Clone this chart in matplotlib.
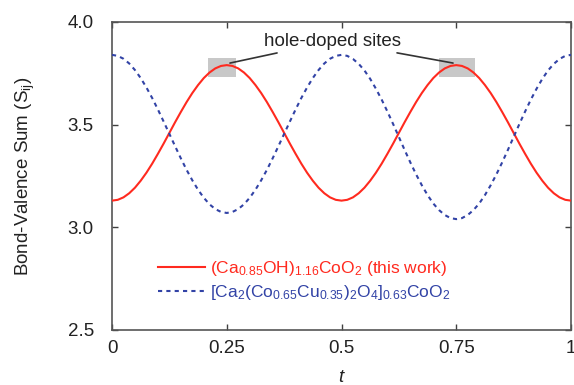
import matplotlib
matplotlib.use("Agg")
import matplotlib.pyplot as plt
from matplotlib.patches import Rectangle

plt.rcParams['font.family'] = ['Liberation Sans', 'DejaVu Sans']
plt.rcParams['mathtext.fontset'] = 'custom'
plt.rcParams['mathtext.rm'] = 'Liberation Sans'
plt.rcParams['mathtext.it'] = 'Liberation Sans:italic'

t = [i / 80 for i in range(81)]  # sample positions along t (0 .. 1)
red = [3.13, 3.134, 3.146, 3.166, 3.193, 3.227, 3.266, 3.310, 3.358, 3.408,
       3.46, 3.512, 3.562, 3.610, 3.654, 3.693, 3.727, 3.754, 3.774, 3.786,
       3.79, 3.786, 3.774, 3.754, 3.727, 3.693, 3.654, 3.610, 3.562, 3.512,
       3.46, 3.408, 3.358, 3.310, 3.266, 3.227, 3.193, 3.166, 3.146, 3.134,
       3.13, 3.134, 3.146, 3.166, 3.193, 3.227, 3.266, 3.310, 3.358, 3.408,
       3.46, 3.512, 3.562, 3.610, 3.654, 3.693, 3.727, 3.754, 3.774, 3.786,
       3.79, 3.786, 3.774, 3.754, 3.727, 3.693, 3.654, 3.610, 3.562, 3.512,
       3.46, 3.408, 3.358, 3.310, 3.266, 3.227, 3.193, 3.166, 3.146, 3.134,
       3.13]
blue = [3.84, 3.835, 3.821, 3.798, 3.766, 3.727, 3.681, 3.630, 3.574, 3.515,
        3.455, 3.395, 3.336, 3.280, 3.229, 3.183, 3.144, 3.112, 3.089, 3.075,
        3.07, 3.075, 3.089, 3.112, 3.144, 3.183, 3.229, 3.280, 3.336, 3.395,
        3.455, 3.515, 3.574, 3.630, 3.681, 3.727, 3.766, 3.798, 3.821, 3.835,
        3.84, 3.835, 3.820, 3.796, 3.764, 3.723, 3.675, 3.622, 3.564, 3.503,
        3.44, 3.377, 3.316, 3.258, 3.205, 3.157, 3.116, 3.084, 3.060, 3.045,
        3.04, 3.045, 3.060, 3.084, 3.116, 3.157, 3.205, 3.258, 3.316, 3.377,
        3.44, 3.503, 3.564, 3.622, 3.675, 3.723, 3.764, 3.796, 3.820, 3.835,
        3.84]
red_label = r'(Ca$_{0.85}$OH)$_{1.16}$CoO$_2$ (this work)'
blue_label = r'[Ca$_2$(Co$_{0.65}$Cu$_{0.35}$)$_2$O$_4$]$_{0.63}$CoO$_2$'
xticks = [0, 0.25, 0.5, 0.75, 1]
xticklabels = ['0', '0.25', '0.5', '0.75', '1']
yticks = [2.5, 3.0, 3.5, 4.0]
yticklabels = ['2.5', '3.0', '3.5', '4.0']
boxes = [(0.21, 0.27), (0.712, 0.791)]
box_y = (3.73, 3.825)

red_c = '#ff2a1f'
blue_c = '#3243a6'
fs = 13.5

fig = plt.figure(figsize=(5.74, 3.85), dpi=100)
ax = fig.add_axes([112/574, 1-330/385, (571-112)/574, (330-22)/385])

for x0, x1 in boxes:
    ax.add_patch(Rectangle((x0, box_y[0]), x1-x0, box_y[1]-box_y[0],
                           facecolor='#c8c8c8', edgecolor='none', zorder=1))

ax.plot(t, red, color=red_c, lw=1.5, label=red_label, zorder=3)
ax.plot(t, blue, color=blue_c, lw=1.5, ls=(0, (2, 2)), label=blue_label, zorder=3)

ax.set_xlim(0, 1)
ax.set_ylim(2.5, 4.0)
ax.set_xticks(xticks)
ax.set_xticklabels(xticklabels)
ax.set_yticks(yticks)
ax.set_yticklabels(yticklabels)
ax.tick_params(axis='y', pad=13)
ax.tick_params(axis='x', pad=7)
ax.tick_params(direction='in', top=True, right=True, labelsize=fs, length=4,
               width=1, color='#404040', labelcolor='#222222')
for s in ax.spines.values():
    s.set_color('#555555')
    s.set_linewidth(1.2)

ax.set_ylabel(r'Bond-Valence Sum (S$_{\mathrm{ij}}$)', fontsize=fs, labelpad=22,
              color='#222222')
ax.set_xlabel(r'$t$', fontsize=fs, labelpad=9, color='#222222')

ax.annotate('hole-doped sites', xy=(0.257, 3.80), xytext=(0.48, 3.907),
            ha='center', va='center', fontsize=fs, color='#222222',
            arrowprops=dict(arrowstyle='-', color='#333333', lw=1.2,
                            shrinkA=2, shrinkB=0))
ax.annotate('hole-doped sites', xy=(0.743, 3.80), xytext=(0.48, 3.907),
            ha='center', va='center', fontsize=fs, alpha=0,
            arrowprops=dict(arrowstyle='-', color='#333333', lw=1.2,
                            shrinkA=2, shrinkB=0, alpha=1))

leg = ax.legend(loc='center left', bbox_to_anchor=(0.1, 0.161), frameon=False,
                fontsize=12.5, handlelength=2.7, handletextpad=0.3,
                labelspacing=0.25, borderpad=0, borderaxespad=0)
for txt, c in zip(leg.get_texts(), [red_c, blue_c]):
    txt.set_color(c)

fig.savefig('out.png', dpi=100)
